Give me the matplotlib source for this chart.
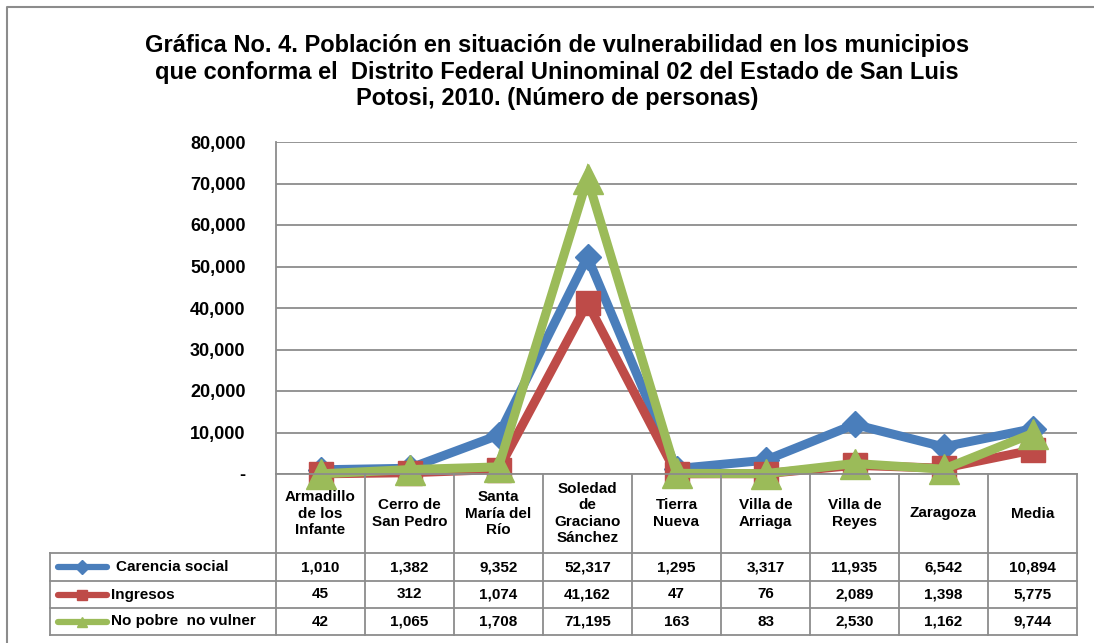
import matplotlib.pyplot as plt
from matplotlib.lines import Line2D
from matplotlib.patches import Rectangle

plt.rcParams['font.family'] = ['Liberation Sans', 'DejaVu Sans']
plt.rcParams['font.weight'] = 'bold'

municipios = ["Armadillo\nde los\nInfante", "Cerro de\nSan Pedro", "Santa\nMaría del\nRío",
              "Soledad\nde\nGraciano\nSánchez", "Tierra\nNueva", "Villa de\nArriaga",
              "Villa de\nReyes", "Zaragoza", "Media"]
carencia = [1010, 1382, 9352, 52317, 1295, 3317, 11935, 6542, 10894]
ingresos = [45, 312, 1074, 41162, 47, 76, 2089, 1398, 5775]
no_pobre = [42, 1065, 1708, 71195, 163, 83, 2530, 1162, 9744]
series_names = ["Carencia social", "Ingresos", "No pobre  no vulner"]
colors = ["#4A7EBB", "#BE4B48", "#9BBB59"]
markers = ["D", "s", "^"]
msizes = [13, 17, 22]

W, H = 1094, 643
fig = plt.figure(figsize=(W / 100, H / 100), dpi=100)

def fx(x):
    return x / W

def fy(y):
    return 1 - y / H

# outer frame (only left and top visible)
fig.add_artist(Line2D([fx(6.5), fx(6.5), fx(1094)], [fy(650), fy(6.5), fy(6.5)],
                      color="#8c8c8c", linewidth=1.5))

fig.text(fx(557), fy(72), "Gráfica No. 4. Población en situación de vulnerabilidad en los municipios\n"
         "que conforma el  Distrito Federal Uninominal 02 del Estado de San Luis\n"
         "Potosi, 2010. (Número de personas)",
         ha="center", va="center", fontsize=17, fontweight="bold", linespacing=1.17)

left, right, top, bottom = 276, 1077, 142, 474
ax = fig.add_axes([fx(left), fy(bottom), fx(right) - fx(left), fy(top) - fy(bottom)])
x = list(range(len(municipios)))
data = [carencia, ingresos, no_pobre]
for vals, c, m, ms in zip(data, colors, markers, msizes):
    ax.plot(x, vals, color=c, linewidth=6.5, marker=m, markersize=ms,
            markeredgecolor=c, solid_joinstyle="miter", zorder=3, clip_on=False)
ax.set_xlim(-0.5, len(municipios) - 0.5)
ax.set_ylim(0, 80000)
ax.set_yticks(range(0, 80001, 10000))
ax.set_yticklabels(["-"] + [f"{v:,}" for v in range(10000, 80001, 10000)],
                   fontsize=13, fontweight="bold")
ax.tick_params(axis="y", length=0, pad=22)
ax.set_xticks([])
ax.grid(axis="y", color="#8c8c8c", linewidth=1.3)
for s in ["top", "right", "bottom"]:
    ax.spines[s].set_visible(False)
ax.spines["left"].set_color("#8c8c8c")
ax.spines["left"].set_linewidth(1.3)
ax.patch.set_alpha(0)
ax.set_axisbelow(True)

# data table
col_w = (right - left) / len(municipios)
rows = [bottom, 553, 581, 608, 635]
gc = "#8c8c8c"
def hline(y, x0, x1):
    fig.add_artist(Line2D([fx(x0), fx(x1)], [fy(y), fy(y)], color=gc, linewidth=1.3))
def vline(x, y0, y1):
    fig.add_artist(Line2D([fx(x), fx(x)], [fy(y0), fy(y1)], color=gc, linewidth=1.3))

hline(bottom, left, right)
for y in rows[1:]:
    hline(y, 50, right)
for i in range(len(municipios) + 1):
    vline(left + i * col_w, bottom, rows[-1])
vline(50, rows[1], rows[-1])

for i, name in enumerate(municipios):
    cx = left + (i + 0.5) * col_w
    fig.text(fx(cx), fy((rows[0] + rows[1]) / 2), name, ha="center", va="center",
             fontsize=11, fontweight="bold", linespacing=1.2)

for r, (vals, nm, c, m) in enumerate(zip(data, series_names, colors, markers)):
    cy = (rows[r + 1] + rows[r + 2]) / 2
    fig.add_artist(Line2D([fx(58), fx(107)], [fy(cy), fy(cy)], color=c, linewidth=4.5,
                          solid_capstyle="round"))
    fig.add_artist(Line2D([fx(82)], [fy(cy)], color=c, marker=m, markersize=7))
    fig.text(fx(111 if r else 116), fy(cy), nm, ha="left", va="center",
             fontsize=11, fontweight="bold")
    for i, v in enumerate(vals):
        cx = left + (i + 0.5) * col_w
        fig.text(fx(cx), fy(cy), f"{v:,}", ha="center", va="center",
                 fontsize=11, fontweight="bold")

fig.savefig("out.png", dpi=100)
